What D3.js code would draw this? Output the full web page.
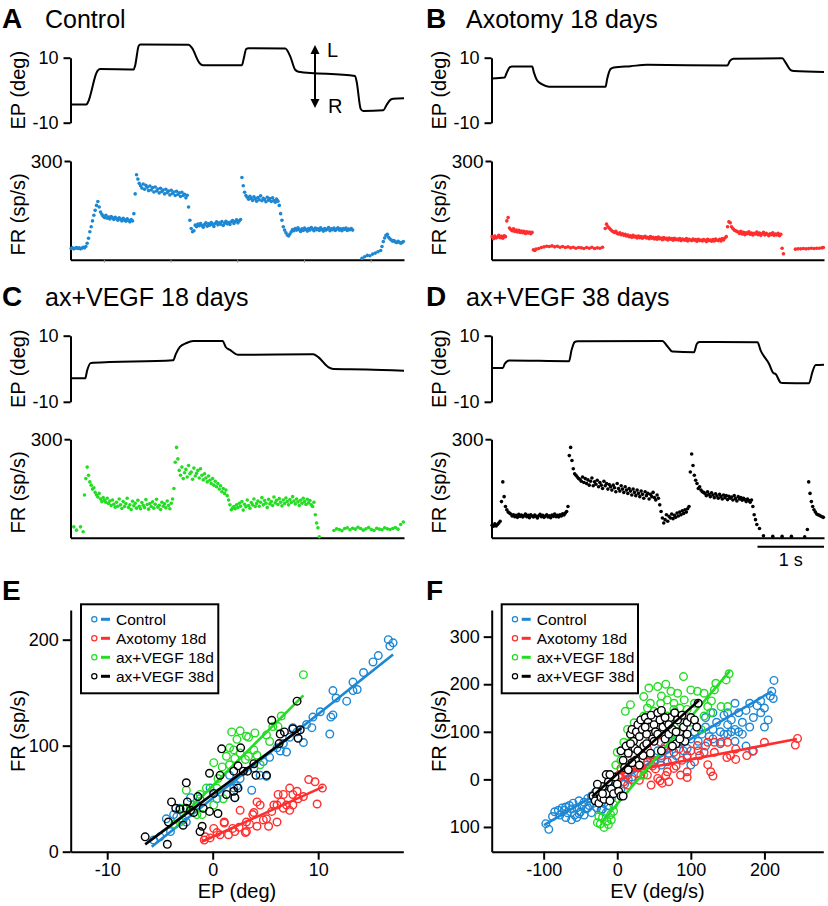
<!DOCTYPE html>
<html><head><meta charset="utf-8">
<script src="https://cdn.jsdelivr.net/npm/d3@7"></script>
<style>body{margin:0;background:#fff}svg{display:block}text{font-family:"Liberation Sans",Arial,Helvetica,sans-serif;fill:#000}</style>
</head><body><svg id="c" width="828" height="906"></svg>
<script>
// ---------- colours ----------
const COLOR_CONTROL = "#1d87d3", COLOR_AXO = "#ff2d2d", COLOR_V18 = "#22dd22", COLOR_V38 = "#000000";

// ---------- trace panels: eye position breakpoints [time s, deg] ----------
const epA = [[0.015,-4.4],[0.24,-4.4],[0.26,-3.8],[0.40,5.8],[0.44,6.5],[0.948,6.4],[0.968,7.5],[1.023,13.7],[1.048,14.1],[1.771,14.0],[1.821,13.0],[1.936,8.3],[1.986,7.7],[2.57,7.7],[2.595,9.5],[2.635,12.7],[2.67,12.9],[3.22,12.8],[3.293,10.5],[3.368,6.3],[3.418,5.7],[4.266,4.4],[4.291,2.5],[4.351,-5.8],[4.391,-6.4],[4.69,-6.2],[4.74,-4.5],[4.80,-2.9],[4.84,-2.6],[5.0,-2.5]];
const epB = [[0.01,3.6],[0.196,3.9],[0.226,5.2],[0.276,7.1],[0.31,7.3],[0.612,7.3],[0.637,5.5],[0.687,3.0],[0.762,1.8],[0.863,1.1],[1.715,1.1],[1.74,3.5],[1.79,6.5],[1.84,7.0],[2.09,7.4],[2.34,7.8],[3.546,7.6],[3.585,9.0],[3.636,9.7],[4.373,9.8],[4.423,8.5],[4.499,6.2],[4.549,5.9],[5.0,5.6]];
const epC = [[0.015,-2.9],[0.22,-2.9],[0.25,-0.5],[0.30,1.7],[0.34,1.8],[1.54,2.6],[1.58,4.5],[1.64,6.6],[1.74,7.8],[1.84,8.4],[2.28,8.4],[2.33,6.5],[2.39,5.7],[2.515,4.2],[3.64,4.4],[3.715,3.5],[3.865,0.5],[3.94,-0.1],[4.44,-0.2],[5.0,-0.6]];
const epD = [[0.01,0.2],[0.17,0.2],[0.20,1.5],[0.266,2.5],[1.167,2.3],[1.202,5.5],[1.252,8.1],[1.293,8.3],[2.57,8.4],[2.645,6.8],[2.72,5.2],[3.046,5.0],[3.086,7.5],[3.126,8.1],[4.0,8.0],[4.048,5.5],[4.173,1.5],[4.238,-1.3],[4.273,-1.6],[4.349,-4.2],[4.374,-4.3],[4.775,-4.4],[4.825,-1.0],[4.875,1.1],[5.0,1.2]];

// ---------- firing rate, one value every 0.02 s (null = no spike) ----------
const FR_STEP = 0.02;
const frA = [34,36,33,35,37,34,36,33,35,38,
36,40,50,65,85,100,118,135,150,165,
177,160,145,138,132,128,135,126,130,124,
131,127,122,129,125,120,127,123,118,126,
121,117,124,119,115,122,118,140,200,258,
245,232,225,218,230,214,226,220,210,224,
212,219,206,221,209,215,203,217,207,212,
200,214,204,209,197,211,201,206,195,208,
198,203,192,205,195,199,188,196,160,120,
95,85,88,105,100,108,103,110,104,99,
107,112,102,109,105,113,108,101,110,115,
106,112,108,116,104,111,117,109,113,107,
115,119,110,116,121,112,118,122,250,225,
205,195,190,184,193,186,180,191,185,178,
189,182,194,179,187,183,176,190,181,186,
177,188,180,175,184,178,165,140,120,100,
90,82,75,72,78,85,92,88,95,90,
97,91,86,94,89,96,92,87,95,90,
98,93,88,96,91,94,89,97,92,87,
95,90,93,98,88,94,91,96,89,93,
97,90,94,88,95,92,96,89,93,91,
95,90,null,null,null,null,null,null,4,null,
9,null,13,null,12,null,17,null,20,null,
24,null,28,40,55,66,74,77,68,63,
60,56,58,54,52,56,53,50,52,55];
const frB = [70,64,72,66,69,74,67,71,65,73,
70,118,128,96,92,88,94,86,90,84,
89,83,87,82,86,80,85,81,84,79,
83,30,28,32,null,34,null,37,null,39,
null,41,null,40,null,42,null,39,null,41,
null,38,null,40,null,37,null,39,null,36,
null,38,null,35,null,37,null,36,null,34,
null,37,null,35,null,38,null,34,null,36,
null,35,null,38,null,95,108,100,96,92,
88,85,83,86,80,78,82,76,79,74,
77,72,75,70,73,68,74,69,71,66,
72,67,70,65,69,71,66,68,64,70,
65,68,63,67,62,69,64,66,61,67,
63,65,60,66,62,64,59,65,61,63,
60,64,58,63,61,59,64,57,62,60,
58,63,59,61,56,62,58,60,57,61,
59,55,62,58,60,56,61,57,63,59,
58,62,57,64,60,66,70,100,115,112,
100,95,90,88,86,84,80,86,78,83,
76,82,79,85,77,81,75,80,78,84,
76,81,74,79,83,75,80,77,73,79,
76,82,74,78,75,80,73,77,35,18,
null,null,null,null,null,null,null,null,32,null,
33,null,33,null,34,null,33,null,34,null,
35,null,34,null,35,null,35,null,36,37];
const frC = [null,null,33,null,23,null,null,33,null,18,
130,180,215,190,170,160,148,152,138,130,
124,135,118,110,122,114,108,120,104,112,
98,115,102,93,108,96,118,100,89,110,
95,104,120,92,100,86,111,97,105,90,
114,96,88,107,99,92,116,101,87,104,
95,109,90,102,117,93,99,86,108,96,
103,91,112,98,88,105,118,150,230,275,
240,205,190,215,180,198,208,185,220,195,
200,178,212,188,196,205,182,210,190,176,
195,182,170,188,175,165,180,160,172,155,
165,148,158,140,150,135,145,128,115,100,
85,90,95,88,100,92,105,96,110,84,
102,94,115,98,90,107,100,118,95,104,
112,96,108,122,100,113,105,92,117,103,
110,98,124,106,114,101,119,108,97,115,
104,121,110,100,116,107,125,112,103,118,
109,98,114,105,120,110,101,117,106,113,
100,95,108,70,45,30,3,null,null,null,
null,null,null,null,null,null,null,22,null,27,
null,25,null,21,null,28,null,30,null,24,
null,29,null,26,null,32,null,28,null,23,
null,27,null,31,null,25,null,22,null,29,
null,26,null,24,null,30,null,27,null,25,
null,28,null,31,null,26,null,40,null,48];
const frD = [38,35,42,36,40,45,50,110,170,125,
95,85,78,75,72,66,70,64,68,62,
71,65,69,63,67,72,64,68,61,70,
66,63,69,65,60,67,71,64,68,62,
66,70,63,67,61,69,65,72,64,68,
63,70,66,73,69,75,80,95,250,275,
235,210,195,190,185,180,178,172,185,168,
180,165,176,160,172,182,158,170,163,175,
155,168,160,150,172,158,165,148,162,155,
145,160,152,140,165,150,142,158,148,138,
155,145,135,150,142,130,148,138,128,145,
135,125,142,132,120,140,128,135,118,132,
125,138,122,115,130,120,100,80,60,45,
55,70,50,65,60,72,58,68,62,75,
66,78,70,82,74,85,78,88,95,200,
255,220,190,175,165,150,155,145,140,138,
135,128,140,132,125,137,130,122,134,127,
120,132,125,118,130,122,128,116,126,120,
124,115,128,119,112,125,118,122,114,120,
116,110,118,113,108,115,95,70,55,40,
null,28,null,null,6,null,null,null,null,null,
null,4,null,null,null,null,null,null,4,null,
null,null,null,null,null,4,null,null,null,null,
null,null,null,null,null,3,null,25,170,135,
110,95,85,78,72,70,68,66,64,62];

const traceTitles = ["Control","Axotomy 18 days","ax+VEGF 18 days","ax+VEGF 38 days"];
const traceLetters = ["A","B","C","D"];
const epTicks = [-10,10], epTickLabels = ["-10","10"];
const frTicks = [300], frTickLabels = ["300"];
const timeTicksA = [0.5,1.5,2.5,3.5,4.5];
const arrowAnn = {t:3.666, top:13.9, bottom:-5.5};

// ---------- scatter panel E (EP vs FR) ----------
const eControl = [[16.65,200],[16.8,194],[17.1,197],[15.7,185],[15.2,179],[14.3,169],[13.3,160],[13.7,153],[13.3,152],[11.4,152],[11.7,145],[11.2,127],[10.2,132],[9.5,127],[9.4,117],[11.1,111],[8.6,103],[7.6,117],[7.3,108],[7.0,94],[6.4,95],[5.4,89],[4.8,85],[5.1,71],[3.9,79],[3.7,58],[2.6,69],[2.1,51],[2.3,62],[1.6,72],[0.7,56],[-0.25,60],[-1.2,50],[-2.1,51],[-3.1,41],[-3.7,35],[-4.4,31],[-4.0,19],[-2.5,28],[-5.6,11],[-5.0,14],[-1.5,44],[0.4,50],[2.0,60],[4.5,72],[6.1,98],[6.7,102],[8.0,113],[8.9,120],[11.4,129],[12.7,142],[-3.4,33],[-2.8,30]];
const eAxo = [[-0.8,11],[-0.7,14],[-0.25,13],[0.4,18],[1.1,28],[1.1,27],[1.5,16],[2.1,19],[2.5,23],[2.6,39],[3.1,18],[3.2,28],[3.5,26],[3.8,35],[4.2,24],[4.2,47],[4.5,44],[4.8,30],[5.3,24],[5.6,38],[5.8,44],[6.1,28],[6.2,54],[6.5,47],[6.7,54],[7.0,44],[7.3,39],[7.3,60],[7.6,54],[8.0,57],[8.1,50],[8.6,52],[9.1,68],[9.7,66],[9.9,45],[10.4,60],[3.9,37],[1.9,22],[5.1,31],[6.7,41],[7.6,44],[6.1,44],[0.1,22],[0.7,16],[3.2,19]];
const eV18 = [[8.6,167],[6.5,128],[6.2,118],[5.1,110],[4.0,112],[3.4,108],[3.2,109],[2.6,114],[1.8,113],[2.3,106],[2.0,96],[1.3,90],[0.9,80],[0.1,84],[3.9,96],[3.4,90],[3.1,87],[2.6,93],[1.6,82],[1.0,50],[0.5,69],[-0.6,60],[-1.0,35],[-2.5,58],[-1.2,54],[0.1,44],[-1.8,44],[-2.8,41],[-3.6,26],[-3.1,28],[4.5,82],[4.2,91],[5.4,104],[5.7,118],[1.6,98],[2.1,88],[0.4,60],[-1.5,35]];
const eV38 = [[-6.4,14],[-4.3,7],[-4.2,28],[-3.9,47],[-3.5,41],[-2.8,25],[-2.5,65],[-2.4,47],[-2.1,39],[-1.8,37],[-1.4,52],[-1.2,19],[-1.0,24],[-0.9,41],[-0.3,38],[-0.3,74],[0.1,55],[0.5,36],[0.85,97],[1.3,54],[2.0,57],[2.0,76],[2.1,51],[2.4,60],[2.65,98],[2.4,81],[3.3,76],[3.9,83],[4.1,72],[5.1,72],[5.6,124],[6.3,102],[6.4,111],[6.8,113],[7.6,116],[8.0,142],[8.1,107],[8.3,115],[-3.1,40],[0.7,72],[2.9,76],[-2.5,41]];
const eFits = [[[-5.78,4.7],[17.1,186]],[[-1.04,9.4],[10.5,61.4]],[[-3.57,26.8],[8.6,147.4]],[[-6.4,6.9],[8.4,116.5]]];
const eXTicks = [-10,0,10], eXTickLabels = ["-10","0","10"];
const eYTicks = [0,100,200], eYTickLabels = ["0","100","200"];

// ---------- scatter panel F (EV vs FR) ----------
const fControl = [[-97,-93],[-93,-105],[-85,-68],[-78,-75],[-75,-60],[-72,-65],[-70,-58],[-68,-70],[-65,-55],[-62,-62],[-60,-50],[-58,-75],[-55,-60],[-52,-45],[-50,-68],[-48,-55],[-45,-48],[-42,-62],[-40,-40],[-38,-55],[-35,-35],[-32,-50],[-30,-28],[-28,-60],[-25,-45],[-22,-40],[-20,-62],[-18,-50],[-15,-35],[-12,-55],[-10,-20],[-8,-40],[-5,-15],[-62,-85],[-55,-80],[-45,-75],[-35,-70],[-80,-65],[-88,-78],[-70,-80],[-52,-72],[-40,-60],[-15,-70],[-22,-65],[5,-20],[10,-10],[15,0],[20,5],
[40,30],[45,50],[50,40],[55,60],[60,45],[65,70],[70,55],[75,80],[80,50],[85,75],[90,90],[95,65],[100,85],[100,30],[105,100],[110,80],[115,95],[120,110],[125,90],[130,105],[135,120],[140,100],[145,135],[150,115],[155,125],[160,105],[165,140],[170,120],[175,145],[180,160],[185,130],[190,155],[195,165],[200,150],[205,125],[208,175],[210,185],[213,208],[212,170],[170,95],[175,70],[185,60],[160,80],[140,75],[120,70],[95,45],[75,40],[110,60],[130,85],[150,95],[60,30],[165,100],[150,140],[180,110],[195,140],[120,130],[90,60],[145,95],[160,160],[200,110],[130,140],[155,100]];
const fAxo = [[245,86],[242,72],[200,78],[184,59],[176,50],[161,64],[161,42],[150,78],[149,46],[141,78],[132,78],[123,78],[132,57],[123,31],[127,16],[130,7],[109,71],[95,50],[95,16],[95,4],[86,9],[77,23],[70,-5],[61,-8],[46,-12],[55,2],[59,78],[63,64],[73,71],[84,64],[41,9],[32,43],[23,50],[14,9],[9,-5],[2,9],[5,23],[18,23],[41,37],[50,37],[68,37],[105,37],[118,57],[154,50],[41,64],[23,30],[14,-12],[32,9],[68,16],[77,57],[28,25],[36,20],[45,45],[52,22],[60,50],[66,8],[88,40],[100,60],[112,50],[10,15],[20,0],[30,-2],[48,28],[58,-3],[80,28]];
const fV18 = [[152,222],[148,209],[134,202],[132,188],[118,181],[109,185],[100,188],[90,216],[82,181],[73,185],[66,200],[55,195],[43,192],[36,174],[18,157],[11,143],[59,160],[77,160],[91,167],[68,167],[123,153],[141,153],[150,153],[118,133],[127,140],[50,143],[41,150],[36,133],[23,119],[14,105],[9,78],[18,78],[41,112],[68,133],[95,147],[105,160],[59,133],[50,126],[27,92],[0,57],[-2,30],[-5,2],[-5,-67],[-14,-88],[-23,-94],[-18,-101],[-27,-91],[-9,-74],[-5,-53],[36,9],[114,105],[86,119],[77,147],[-20,-80],[-12,-95],[-25,-78],[5,40],[30,100],[60,175],[85,150],[100,120],[128,165],[70,120],[45,160],[-8,-85]];
const fV38 = [[-33,-35],[-30,-45],[-28,-25],[-25,-50],[-22,-38],[-20,-15],[-18,-42],[-15,-30],[-12,-5],[-10,-45],[-8,-20],[-5,-30],[-3,5],[0,-10],[2,-25],[5,-35],[-15,10],[-10,10],[-20,-30],[-27,-10],[8,-35],
[5,60],[8,40],[10,25],[12,70],[15,55],[18,95],[20,105],[22,80],[24,65],[26,100],[28,115],[30,90],[32,125],[34,105],[36,70],[38,130],[40,95],[42,120],[44,110],[46,135],[48,85],[50,115],[52,100],[55,140],[58,125],[60,145],[62,110],[65,85],[68,120],[70,95],[72,130],[75,105],[78,140],[80,75],[82,125],[85,100],[88,135],[90,110],[92,80],[95,120],[100,130],[105,125],[108,110],[110,160],[15,20],[25,40],[35,50],[60,60],[75,70],[45,55],[20,35],[30,30],[65,130],[85,85],[18,75],[28,60],[40,75],[55,95],[70,115],[80,100],[95,95],[38,110],[50,80]];
const fFits = [[[-99.5,-96],[210,185]],[[1,12],[244,85]],[[-22,-92],[153,228]],[[-34,-36],[111,166]]];
const fXTicks = [-100,0,100,200], fXTickLabels = ["-100","0","100","200"];
const fYTicks = [-100,0,100,200,300], fYTickLabels = ["100","0","100","200","300"];

const seriesNames = ["Control","Axotomy 18d","ax+VEGF 18d","ax+VEGF 38d"];
const seriesColors = [COLOR_CONTROL, COLOR_AXO, COLOR_V18, COLOR_V38];

// ================= drawing =================
const svg = d3.select("#c");
const FONT = '"Liberation Sans", Arial, Helvetica, sans-serif';

function styleAxis(sel, fontSize) {
  sel.attr("font-family", FONT).attr("font-size", fontSize);
  sel.select(".domain").attr("stroke","#000").attr("stroke-width",2);
  sel.selectAll(".tick line").attr("stroke","#000").attr("stroke-width",2);
  sel.selectAll(".tick text").attr("fill","#000");
}

const cols = [{axisX:70.5,right:404,letterX:2,titleX:45,yTitleX:25},{axisX:491.5,right:824,letterX:426,titleX:466,yTitleX:446}];
const rows = [{letterY:28,ep10:57.7,epm10:122.7,fr300:161,fr0:259.7},{letterY:306,ep10:335.7,epm10:401.8,fr300:439.2,fr0:537.7}];
const traceData = [[epA,frA,COLOR_CONTROL],[epB,frB,COLOR_AXO],[epC,frC,COLOR_V18],[epD,frD,COLOR_V38]];

traceData.forEach((td, k) => {
  const c = cols[k % 2], r = rows[Math.floor(k / 2)];
  const [epData, frData, color] = td;
  const g = svg.append("g");
  const t = d3.scaleLinear().domain([0,5]).range([c.axisX, c.right]);
  const ep = d3.scaleLinear().domain([-10,10]).range([r.epm10, r.ep10]);
  const fr = d3.scaleLinear().domain([0,300]).range([r.fr0, r.fr300]);

  g.append("text").attr("x",c.letterX).attr("y",r.letterY).attr("font-size",28).attr("font-weight","bold").text(traceLetters[k]);
  g.append("text").attr("x",c.titleX).attr("y",r.letterY).attr("font-size",25).text(traceTitles[k]);

  const epAx = g.append("g").attr("transform",`translate(${c.axisX},0)`)
    .call(d3.axisLeft(ep).tickValues(epTicks).tickFormat((d,i)=>epTickLabels[i]).tickSize(7).tickSizeOuter(0).tickPadding(5));
  styleAxis(epAx, 18);
  const frAx = g.append("g").attr("transform",`translate(${c.axisX},0)`)
    .call(d3.axisLeft(fr).tickValues(frTicks).tickFormat((d,i)=>frTickLabels[i]).tickSize(6).tickSizeOuter(0).tickPadding(2));
  styleAxis(frAx, 19);
  const tAx = g.append("g").attr("transform",`translate(0,${r.fr0})`)
    .call(d3.axisBottom(t).tickValues(k === 0 ? timeTicksA : []).tickFormat("").tickSize(3).tickSizeOuter(0));
  styleAxis(tAx, 10);
  tAx.selectAll(".tick line").attr("stroke","#999").attr("stroke-width",1);

  g.append("text").attr("transform",`translate(${c.yTitleX},${(r.ep10+r.epm10)/2}) rotate(-90)`).attr("text-anchor","middle").attr("font-size",20).text("EP (deg)");
  g.append("text").attr("transform",`translate(${c.yTitleX},${(r.fr300+r.fr0)/2+4}) rotate(-90)`).attr("text-anchor","middle").attr("font-size",20).text("FR (sp/s)");

  g.append("path").datum(epData)
    .attr("d", d3.line().x(d=>t(d[0])).y(d=>ep(d[1])).curve(d3.curveMonotoneX))
    .attr("fill","none").attr("stroke","#000").attr("stroke-width",2).attr("stroke-linejoin","round");

  const dots = frData.map((v,i)=>({t:i*FR_STEP+0.01, v})).filter(d=>d.v !== null);
  g.append("g").selectAll("circle").data(dots).join("circle")
    .attr("cx",d=>t(d.t)).attr("cy",d=>fr(d.v)).attr("r",1.8).attr("fill",color);

  if (k === 0) {
    const ax = t(arrowAnn.t), y1 = ep(arrowAnn.top), y2 = ep(arrowAnn.bottom);
    g.append("line").attr("x1",ax).attr("x2",ax).attr("y1",y1+6).attr("y2",y2-6).attr("stroke","#000").attr("stroke-width",2);
    g.append("path").attr("d",`M${ax},${y1}L${ax-4.5},${y1+9}L${ax+4.5},${y1+9}Z`).attr("fill","#000");
    g.append("path").attr("d",`M${ax},${y2}L${ax-4.5},${y2-9}L${ax+4.5},${y2-9}Z`).attr("fill","#000");
    g.append("text").attr("x",ax+12).attr("y",y1+12).attr("font-size",20).text("L");
    g.append("text").attr("x",ax+13).attr("y",y2+5).attr("font-size",20).text("R");
  }
  if (k === 3) {
    g.append("line").attr("x1",t(4)).attr("x2",t(5)).attr("y1",r.fr0+9).attr("y2",r.fr0+9).attr("stroke","#000").attr("stroke-width",2);
    g.append("text").attr("x",(t(4)+t(5))/2).attr("y",r.fr0+28).attr("text-anchor","middle").attr("font-size",18).text("1 s");
  }
});

function drawScatter(cfg) {
  const g = svg.append("g");
  const x = d3.scaleLinear().domain(cfg.xDomain).range([cfg.left, cfg.right]);
  const y = d3.scaleLinear().domain(cfg.yDomain).range([cfg.bottom, cfg.top]);
  g.append("text").attr("x",cfg.letterX).attr("y",cfg.letterY).attr("font-size",28).attr("font-weight","bold").text(cfg.letter);

  cfg.series.forEach((pts, i) => {
    g.append("g").selectAll("circle").data(pts).join("circle")
      .attr("cx",d=>x(d[0])).attr("cy",d=>y(d[1])).attr("r",3.8)
      .attr("fill", (cfg.whiteFill && i === 3) ? "#fff" : "none")
      .attr("stroke",seriesColors[i]).attr("stroke-width",1.4);
    g.append("path").datum(cfg.fits[i]).attr("d", d3.line().x(d=>x(d[0])).y(d=>y(d[1])))
      .attr("stroke",seriesColors[i]).attr("stroke-width",2.6).attr("fill","none");
  });

  const ya = g.append("g").attr("transform",`translate(${cfg.left},0)`)
    .call(d3.axisLeft(y).tickValues(cfg.yTicks).tickFormat((d,i)=>cfg.yTickLabels[i]).tickSize(8).tickSizeOuter(0).tickPadding(4));
  styleAxis(ya, 18);
  const xa = g.append("g").attr("transform",`translate(0,${cfg.bottom})`)
    .call(d3.axisBottom(x).tickValues(cfg.xTicks).tickFormat((d,i)=>cfg.xTickLabels[i]).tickSize(8).tickSizeOuter(0).tickPadding(4));
  styleAxis(xa, 18);

  g.append("text").attr("x",(cfg.left+cfg.right)/2).attr("y",898).attr("text-anchor","middle").attr("font-size",20).text(cfg.xTitle);
  g.append("text").attr("transform",`translate(${cfg.yTitleX},${(cfg.top+cfg.bottom)/2}) rotate(-90)`).attr("text-anchor","middle").attr("font-size",20).text("FR (sp/s)");

  const L = cfg.legend;
  const lg = g.append("g");
  lg.append("rect").attr("x",L.x).attr("y",L.y).attr("width",L.w).attr("height",L.h).attr("fill","#fff").attr("stroke","#000").attr("stroke-width",2);
  seriesNames.forEach((name,i) => {
    const yy = L.y + 15 + i*19;
    lg.append("circle").attr("cx",L.x+13.3).attr("cy",yy).attr("r",2.6).attr("fill","none").attr("stroke",seriesColors[i]).attr("stroke-width",1.2);
    lg.append("line").attr("x1",L.x+20).attr("x2",L.x+29).attr("y1",yy).attr("y2",yy).attr("stroke",seriesColors[i]).attr("stroke-width",3);
    lg.append("text").attr("x",L.x+35).attr("y",yy+5.5).attr("font-size",15.5).text(name);
  });
}

drawScatter({letter:"E", letterX:2, letterY:600, left:70.7, right:403.3, top:610, bottom:851.7,
  xDomain:[-13.46,18.07], yDomain:[0,228], xTicks:eXTicks, xTickLabels:eXTickLabels, yTicks:eYTicks, yTickLabels:eYTickLabels,
  series:[eControl,eAxo,eV18,eV38], fits:eFits, xTitle:"EP (deg)", yTitleX:25, whiteFill:false,
  legend:{x:81,y:604.3,w:137.3,h:89}});
drawScatter({letter:"F", letterX:426, letterY:600, left:491.7, right:823.3, top:610, bottom:851.7,
  xDomain:[-170.6,280], yDomain:[-152,356], xTicks:fXTicks, xTickLabels:fXTickLabels, yTicks:fYTicks, yTickLabels:fYTickLabels,
  series:[fControl,fAxo,fV18,fV38], fits:fFits, xTitle:"EV (deg/s)", yTitleX:446, whiteFill:true,
  legend:{x:501.7,y:604.3,w:136.3,h:89}});
</script></body></html>
